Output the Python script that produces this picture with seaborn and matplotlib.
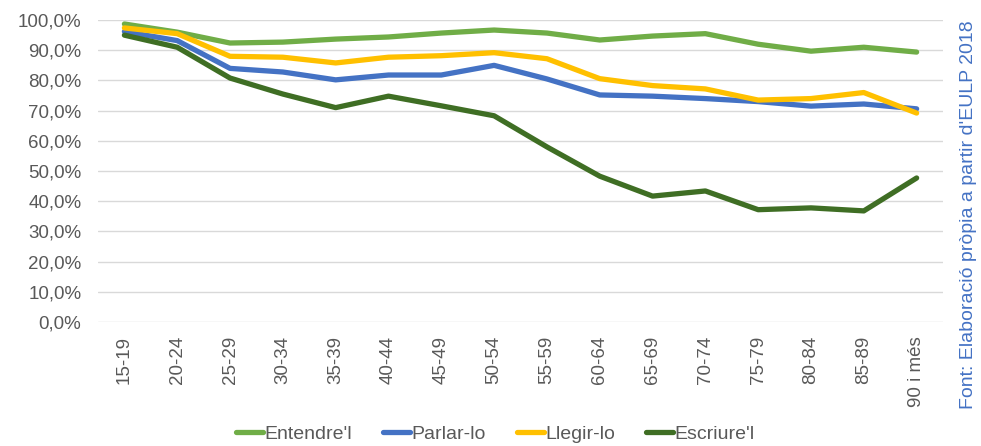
import numpy as np
import pandas as pd
import matplotlib
matplotlib.use("Agg")
import matplotlib.pyplot as plt
import seaborn as sns
from matplotlib.ticker import FuncFormatter

# Dades (percentatges llegits del gràfic)
edats = ['15-19', '20-24', '25-29', '30-34', '35-39', '40-44', '45-49', '50-54',
         '55-59', '60-64', '65-69', '70-74', '75-79', '80-84', '85-89', '90 i més']
entendre = [98.7, 96.0, 92.4, 92.7, 93.7, 94.4, 95.7, 96.7,
            95.7, 93.4, 94.7, 95.5, 92.0, 89.7, 91.0, 89.4]
parlar = [96.2, 93.2, 84.0, 82.8, 80.2, 81.8, 81.8, 85.0,
          80.5, 75.2, 74.8, 74.0, 73.0, 71.5, 72.2, 70.6]
llegir = [97.4, 95.5, 88.0, 87.7, 85.8, 87.7, 88.2, 89.2,
          87.2, 80.6, 78.3, 77.2, 73.5, 74.0, 76.0, 69.2]
escriure = [95.0, 91.0, 80.8, 75.5, 71.0, 74.8, 71.6, 68.3,
            58.0, 48.3, 41.7, 43.4, 37.2, 37.8, 36.8, 47.7]

series = {"Entendre'l": entendre, "Parlar-lo": parlar,
          "Llegir-lo": llegir, "Escriure'l": escriure}
colors = {"Entendre'l": '#70AD47', "Parlar-lo": '#4472C4',
          "Llegir-lo": '#FFC000', "Escriure'l": '#3F6E24'}

df = pd.concat([pd.DataFrame({'edat': np.arange(len(edats)), 'valor': v, 'serie': k})
                for k, v in series.items()], ignore_index=True)

sns.set_style('white')
plt.rcParams['font.family'] = ['Liberation Sans', 'DejaVu Sans']

fig = plt.figure(figsize=(9.81, 4.46), dpi=100)
ax = fig.add_axes([0.0999, 0.278, 0.8614, 0.677])

sns.lineplot(data=df, x='edat', y='valor', hue='serie', palette=colors,
             linewidth=3.8, ax=ax, legend=True, sort=False)
for ln in ax.get_lines():
    ln.set_solid_joinstyle('round')
    ln.set_solid_capstyle('round')

ax.set_xlim(-0.5, len(edats) - 0.5)
ax.set_ylim(0, 100)
ax.set_yticks(np.arange(0, 101, 10))
ax.yaxis.set_major_formatter(FuncFormatter(lambda v, p: f"{v:.1f}%".replace('.', ',')))
ax.set_xticks(np.arange(len(edats)))
ax.set_xticklabels(edats, rotation=90)
ax.tick_params(axis='both', length=0, labelsize=13.5, colors='#595959', pad=10)
ax.tick_params(axis='y', pad=12)
ax.grid(axis='y', color='#D9D9D9', linewidth=1)
ax.set_axisbelow(True)
for s in ax.spines.values():
    s.set_visible(False)
ax.set_xlabel('')
ax.set_ylabel('')

leg = ax.legend(loc='center', bbox_to_anchor=(0.47, -0.37), ncol=4, frameon=False,
                fontsize=14, handlelength=1.4, handletextpad=0.05, columnspacing=1.6)
for t in leg.get_texts():
    t.set_color('#595959')
for h in leg.legend_handles:
    h.set_linewidth(3.8)

fig.text(0.987, 0.518, "Font: Elaboració pròpia a partir d'EULP 2018", rotation=90,
         ha='center', va='center', color='#4472C4', fontsize=14)

fig.savefig('out.png', dpi=100)
